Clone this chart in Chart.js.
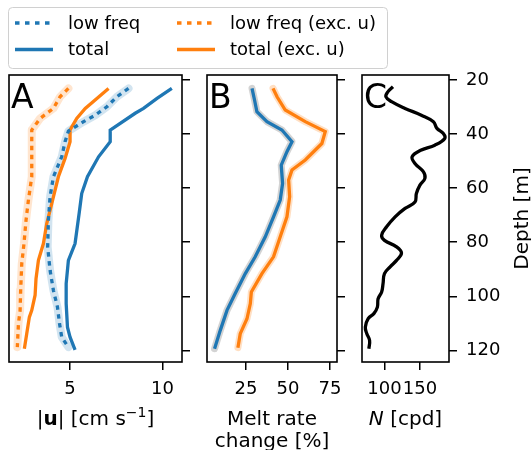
<!DOCTYPE html>
<html>
<head>
<meta charset="utf-8">
<script src="https://cdn.jsdelivr.net/npm/chart.js@4.4.1/dist/chart.umd.min.js"></script>
<style>
  body { margin: 0; background: #fff; }
  #wrap { position: relative; width: 531px; height: 450px; }
  canvas { position: absolute; left: 0; top: 0; }
</style>
</head>
<body>
<div id="wrap">
  <canvas id="chartA" width="531" height="450"></canvas>
  <canvas id="chartB" width="531" height="450"></canvas>
  <canvas id="chartC" width="531" height="450"></canvas>
</div>
<script>
// panel A: current speed |u| [cm/s] vs depth
const uTotalDepth = [23.1, 26.8, 30.5, 32.3, 38.5, 42.8, 48.4, 55.8, 62, 69.4, 80.5, 86.7, 95.3, 102.7, 111.4, 115.1, 119.8];
const uTotal = [10.5, 9.7, 8.97, 8.52, 7.17, 7.17, 6.54, 5.94, 5.63, 5.49, 5.27, 4.91, 4.79, 4.79, 4.86, 5.0, 5.27];
const uLowDepth = [23.1, 26.2, 29.9, 33, 35.4, 38.9, 42.8, 48.4, 55.8, 63.2, 71.9, 81.7, 90.4, 97.8, 104, 110.1, 115.1, 118.8];
const uLow = [8.16, 7.53, 6.99, 6.36, 5.73, 4.91, 4.73, 4.55, 4.1, 3.92, 3.83, 3.79, 3.92, 4.1, 4.32, 4.43, 4.55, 4.91];
const uTotalExcDepth = [23.1, 26.8, 30.5, 34.2, 38.5, 42.8, 49, 55.8, 65.7, 73.1, 80.5, 86.7, 93.5, 99.6, 105.2, 107.7, 113.8, 119.4];
const uTotalExc = [7.08, 6.45, 5.82, 5.36, 5.0, 5.0, 4.73, 4.37, 4.01, 3.74, 3.56, 3.29, 3.16, 3.11, 2.93, 2.8, 2.66, 2.53];
const uLowExcDepth = [23.1, 26.2, 30.5, 34.2, 38.5, 45.9, 55.8, 64.4, 71.9, 80.5, 87.9, 97.8, 105.2, 110.1, 118.8];
const uLowExc = [4.91, 4.46, 4.1, 3.38, 2.93, 2.93, 2.93, 2.75, 2.62, 2.51, 2.39, 2.33, 2.3, 2.21, 2.15];

// panel B: melt rate change [%]
const meltDepth = [23.1, 27.4, 31.7, 35.4, 38.5, 42.8, 46.5, 51.5, 58.3, 64.4, 70.6, 78, 85.4, 91.6, 99, 105.2, 112.6, 119.4];
const melt = [28.6, 30.1, 31.5, 37.5, 46.4, 52.4, 49.4, 46.0, 46.8, 45.4, 41.4, 36.5, 30.5, 24.6, 18.6, 13.7, 9.7, 6.3];
const meltExcDepth = [23.1, 26.2, 31.1, 35.4, 39.1, 43.5, 49.6, 53.3, 57, 63.2, 70.6, 78, 85.4, 91.6, 98.4, 102.7, 108.3, 113.8, 119];
const meltExc = [41.1, 43.5, 48.4, 60.3, 72.2, 70.2, 60.3, 52.4, 50.4, 51, 49.4, 45.4, 41.4, 34.5, 28.2, 27.6, 25.6, 21.6, 20.2];

// panel C: buoyancy frequency N [cpd]
const nDepth = [22.5, 24.3, 26.2, 28.0, 30.5, 33, 35.4, 37.9, 39.8, 41.6, 44.1, 45.9, 48.4, 50.9, 54, 56.4, 58.9, 62, 65.1, 67.5, 70.6, 74.3, 77.4, 79.3, 81.7, 84, 86.7, 89.1, 91.6, 95.3, 98.4, 100.9, 104, 106.4, 108.3, 111.4, 113.8, 116.3, 119.4];
const nFreq = [112, 105, 102, 110, 129, 152, 169, 174, 183, 185, 171, 152, 139, 143, 155, 157, 150, 145, 143, 129, 115, 103, 96, 100, 117, 124, 117, 108, 100, 98, 96, 91, 90, 85, 77, 73, 75, 79, 78];

// ticks and labels
const depthTicks = [20, 40, 60, 80, 100, 120];
const uTicks = [5, 10];
const meltTicks = [25, 50, 75];
const nTicks = [100, 150];
const legendLabels = ['low freq', 'total', 'low freq (exc. u)', 'total (exc. u)'];
const meltTitle = ['Melt rate', 'change [%]'];
const depthTitle = 'Depth [m]';

const BLUE = '#1f77b4';
const ORANGE = '#ff7f0e';
const FONT = "'DejaVu Sans', sans-serif";

Chart.defaults.font.family = FONT;
Chart.defaults.font.size = 18;
Chart.defaults.color = '#000';

const toPoints = (xs, ys) => xs.map((x, i) => ({ x, y: ys[i] }));

const lineSet = (label, xs, ys, color, extra = {}) => ({
  label,
  data: toPoints(xs, ys),
  showLine: true,
  borderColor: color,
  borderWidth: 3.3,
  pointRadius: 0,
  order: 1,
  ...extra,
});

const bandSet = (xs, ys, color, width) => ({
  label: 'band',
  data: toPoints(xs, ys),
  showLine: true,
  borderColor: color,
  borderWidth: width,
  borderJoinStyle: 'round',
  borderCapStyle: 'round',
  pointRadius: 0,
  order: 2,
});

const xAxis = (min, max, ticks) => ({
  type: 'linear',
  position: 'bottom',
  min,
  max,
  afterBuildTicks: (s) => { s.ticks = ticks.map((v) => ({ value: v })); },
  afterFit: (s) => { s.height = 88; },
  grid: { drawOnChartArea: false, tickLength: 8, color: '#000', lineWidth: 1.5 },
  border: { display: false },
  ticks: { padding: 9, maxRotation: 0, autoSkip: false },
});

const depthAxis = (showLabels, width) => ({
  type: 'linear',
  position: 'right',
  reverse: true,
  min: 18.15,
  max: 124.3,
  afterBuildTicks: (s) => { s.ticks = depthTicks.map((v) => ({ value: v })); },
  afterFit: (s) => { s.width = width; },
  grid: { drawOnChartArea: false, tickLength: 8, color: '#000', lineWidth: 1.5 },
  border: { display: false },
  ticks: { display: showLabels, padding: 9 },
});

const framePlugin = {
  id: 'frame',
  afterDraw(chart, args, opts) {
    const { ctx, chartArea: a } = chart;
    ctx.save();
    ctx.strokeStyle = '#000';
    ctx.lineWidth = 1.6;
    ctx.strokeRect(a.left, a.top, a.right - a.left, a.bottom - a.top);
    ctx.fillStyle = '#000';
    ctx.font = `33px ${FONT}`;
    ctx.textBaseline = 'alphabetic';
    ctx.fillText(opts.letter, a.left + 2, a.top + 33);
    if (opts.title) opts.title(ctx, a);
    ctx.restore();
  },
};
Chart.register(framePlugin);

// text made of runs with different fonts, centred on cx
const drawRuns = (ctx, runs, cx, y) => {
  let total = 0;
  runs.forEach((r) => { ctx.font = r.font; r.w = ctx.measureText(r.text).width; total += r.w; });
  let x = cx - total / 2;
  ctx.textAlign = 'left';
  runs.forEach((r) => { ctx.font = r.font; ctx.fillText(r.text, x, y + (r.dy || 0)); x += r.w; });
};

const legendPlugin = {
  id: 'boxLegend',
  afterDraw(chart) {
    const { ctx } = chart;
    const items = [
      { text: legendLabels[0], color: BLUE, dash: [4.5, 5.5], x: 15, y: 23 },
      { text: legendLabels[1], color: BLUE, dash: [], x: 15, y: 49.5 },
      { text: legendLabels[2], color: ORANGE, dash: [4.5, 5.5], x: 177, y: 23 },
      { text: legendLabels[3], color: ORANGE, dash: [], x: 177, y: 49.5 },
    ];
    ctx.save();
    ctx.beginPath();
    ctx.roundRect(8.5, 7.5, 379, 61, 4);
    ctx.fillStyle = 'rgba(255,255,255,0.8)';
    ctx.fill();
    ctx.strokeStyle = '#d0d0d0';
    ctx.lineWidth = 1;
    ctx.stroke();
    items.forEach((it) => {
      ctx.beginPath();
      ctx.setLineDash(it.dash);
      ctx.strokeStyle = it.color;
      ctx.lineWidth = 3.5;
      ctx.lineCap = 'butt';
      ctx.moveTo(it.x, it.y);
      ctx.lineTo(it.x + 38, it.y);
      ctx.stroke();
      ctx.setLineDash([]);
      ctx.fillStyle = '#000';
      ctx.font = `18px ${FONT}`;
      ctx.textBaseline = 'alphabetic';
      ctx.fillText(it.text, it.x + 53, it.y + 5.5);
    });
    ctx.restore();
  },
};

const baseOptions = (padding, scales, frame) => ({
  responsive: false,
  animation: false,
  layout: { padding },
  scales,
  plugins: { legend: { display: false }, tooltip: { enabled: false }, frame },
});

new Chart(document.getElementById('chartA'), {
  type: 'scatter',
  data: {
    datasets: [
      lineSet(legendLabels[0], uLow, uLowDepth, BLUE, { borderDash: [4.5, 4.5] }),
      lineSet(legendLabels[1], uTotal, uTotalDepth, BLUE),
      lineSet(legendLabels[2], uLowExc, uLowExcDepth, ORANGE, { borderDash: [4.5, 4.5] }),
      lineSet(legendLabels[3], uTotalExc, uTotalExcDepth, ORANGE),
      bandSet(uLow, uLowDepth, 'rgba(31,119,180,0.2)', 8),
      bandSet(uLowExc, uLowExcDepth, 'rgba(255,127,14,0.2)', 8),
    ],
  },
  options: baseOptions(
    { left: 9, top: 75, right: 339, bottom: 0 },
    { x: xAxis(1.7, 11.05, uTicks), y: depthAxis(false, 10) },
    {
      letter: 'A',
      title: (ctx, a) => {
        const r = `20px ${FONT}`;
        drawRuns(ctx, [
          { text: '|', font: r },
          { text: 'u', font: `bold 20px ${FONT}` },
          { text: '|', font: r },
          { text: ' [cm s', font: r },
          { text: '\u22121', font: `14px ${FONT}`, dy: -8 },
          { text: ']', font: r },
        ], (a.left + a.right) / 2, 424.5);
      },
    },
  ),
  plugins: [legendPlugin],
});

new Chart(document.getElementById('chartB'), {
  type: 'scatter',
  data: {
    datasets: [
      lineSet('total', melt, meltDepth, BLUE),
      lineSet('total (exc. u)', meltExc, meltExcDepth, ORANGE),
      bandSet(melt, meltDepth, 'rgba(128,128,128,0.35)', 7),
      bandSet(meltExc, meltExcDepth, 'rgba(255,127,14,0.25)', 7),
    ],
  },
  options: baseOptions(
    { left: 207, top: 75, right: 184, bottom: 0 },
    { x: xAxis(1.8, 79.2, meltTicks), y: depthAxis(false, 10) },
    {
      letter: 'B',
      title: (ctx, a) => {
        ctx.font = `20px ${FONT}`;
        ctx.textAlign = 'center';
        ctx.fillText(meltTitle[0], (a.left + a.right) / 2, 424.5);
        ctx.fillText(meltTitle[1], (a.left + a.right) / 2, 446.5);
      },
    },
  ),
});

new Chart(document.getElementById('chartC'), {
  type: 'scatter',
  data: {
    datasets: [
      lineSet('N', nFreq, nDepth, '#000', { tension: 0.4 }),
    ],
  },
  options: baseOptions(
    { left: 362, top: 75, right: 0, bottom: 0 },
    { x: xAxis(68.3, 191, nTicks), y: depthAxis(true, 82) },
    {
      letter: 'C',
      title: (ctx, a) => {
        drawRuns(ctx, [
          { text: 'N', font: `italic 20px ${FONT}` },
          { text: ' [cpd]', font: `20px ${FONT}` },
        ], (a.left + a.right) / 2, 424.5);
        ctx.save();
        ctx.translate(528, (a.top + a.bottom) / 2);
        ctx.rotate(-Math.PI / 2);
        ctx.font = `20px ${FONT}`;
        ctx.textAlign = 'center';
        ctx.fillText(depthTitle, 0, 0);
        ctx.restore();
      },
    },
  ),
});
</script>
</body>
</html>
